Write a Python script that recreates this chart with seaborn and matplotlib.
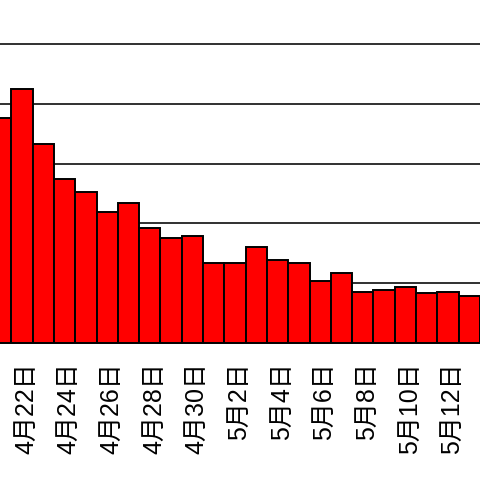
import numpy as np
import pandas as pd
import matplotlib
matplotlib.use("Agg")
import matplotlib.pyplot as plt
import matplotlib.transforms as mtransforms
import seaborn as sns

# fechas visibles (4/21 .. 5/13) y alturas (1 unidad = 1 linea de grilla)
meses = [4] * 10 + [5] * 13
dias = list(range(21, 31)) + list(range(1, 14))
valores = [3.76, 4.24, 3.32, 2.74, 2.53, 2.19, 2.34, 1.92, 1.75, 1.79,
           1.33, 1.33, 1.61, 1.38, 1.34, 1.03, 1.17, 0.86, 0.89, 0.93,
           0.83, 0.85, 0.79]
etiquetas = [f"{m}月{d}日" for m, d in zip(meses, dias)]

df = pd.DataFrame({"fecha": etiquetas, "valor": valores})

sns.set_style("white")
plt.rcParams['font.family'] = ['Liberation Sans', 'Noto Sans CJK JP']

fig = plt.figure(figsize=(4.8, 4.8), dpi=100)
# el grafico original esta recortado: el area de trazado sobrepasa los bordes
alto = 5.05 * 59.8 / 480
ax = fig.add_axes([0, 137 / 480, 1, alto])

sns.barplot(data=df, x="fecha", y="valor", color="#ff0000", saturation=1,
            edgecolor="black", linewidth=1.4, width=1.0, ax=ax, zorder=3)

ax.set_xlim(-0.034, 21.88)
ax.set_ylim(0, 5.05)

# grilla horizontal
ax.set_yticks(np.arange(1, 6))
ax.yaxis.grid(True, color="#303030", linewidth=1.4, zorder=0)
ax.set_axisbelow(True)
ax.tick_params(axis="y", left=False, labelleft=False)

# etiquetas cada 2 dias, marcas entre barras
n = len(etiquetas)
mayores = np.arange(1, n, 2)
ax.set_xticks(mayores)
ax.set_xticklabels([etiquetas[i] for i in mayores], rotation=90, fontsize=18, color="black")
ax.set_xticks(np.arange(0.5, n, 2), minor=True)
ax.tick_params(axis="x", which="major", length=0, pad=14)
ax.tick_params(axis="x", which="minor", length=6, width=1.2, color="black", direction="out")

desplazamiento = mtransforms.ScaledTranslation(4.0 / 100, 0, fig.dpi_scale_trans)
for lab in ax.get_xticklabels():
    lab.set_transform(lab.get_transform() + desplazamiento)

for lado in ["left", "right", "top"]:
    ax.spines[lado].set_visible(False)
ax.spines["bottom"].set_color("black")
ax.spines["bottom"].set_linewidth(1.4)

ax.set_xlabel("")
ax.set_ylabel("")

plt.savefig("out.png", dpi=100)
